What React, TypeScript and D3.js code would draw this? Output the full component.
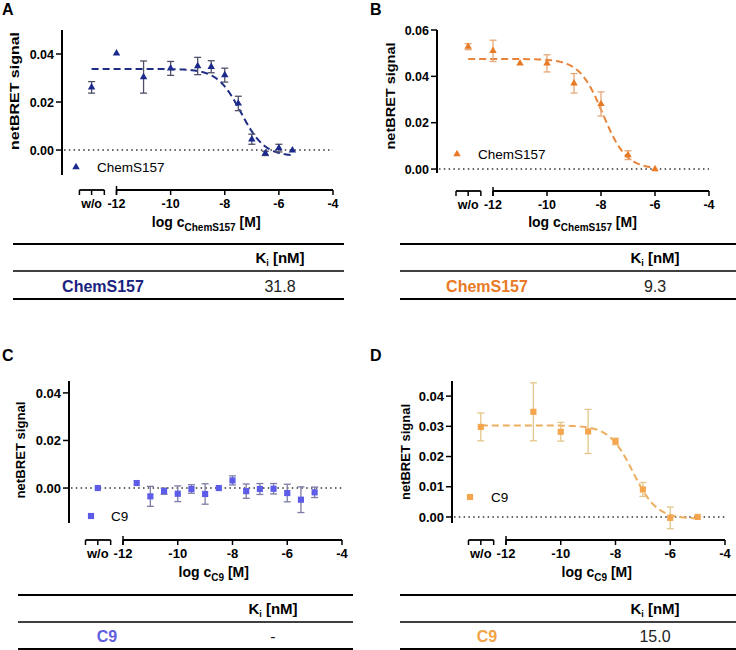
import React from "react";
import * as d3 from "d3";

const FONT = "'Liberation Sans', Arial, Helvetica, sans-serif";

// ---------- DATA ----------
// Panel A – ChemS157 (blue)
const aConc: (string | number)[] = ["w/o", -12, -11, -10, -9, -8.5, -8, -7.5, -7, -6.5, -6, -5.5];
const aSignal = [0.0261, 0.0403, 0.0304, 0.034, 0.035, 0.0347, 0.0312, 0.0194, 0.0045, -0.0014, 0.0008, -0.0001];
const aError = [0.0024, 0, 0.0067, 0.0029, 0.0036, 0.0025, 0.0029, 0.003, 0.0021, 0.0009, 0.0016, 0];
const aFit = { top: 0.0338, bottom: -0.0026, logIC50: -7.4, end: -5.5 };
const aYTicks = [0, 0.02, 0.04];

// Panel B – ChemS157 (orange)
const bConc: (string | number)[] = ["w/o", -12, -11, -10, -9, -8, -7, -6];
const bSignal = [0.0528, 0.051, 0.0456, 0.0456, 0.037, 0.0281, 0.006, 0.0];
const bError = [0.0013, 0.0046, 0, 0.0037, 0.0042, 0.0052, 0.0019, 0];
const bFit = { top: 0.0475, bottom: 0.0, logIC50: -7.93, end: -6 };
const bYTicks = [0, 0.02, 0.04, 0.06];

// Panel C – C9 (blue-violet), no fit
const cConc: (string | number)[] = ["w/o", -11.5, -11, -10.5, -10, -9.5, -9, -8.5, -8, -7.5, -7, -6.5, -6, -5.5, -5];
const cSignal = [0.0, 0.0021, -0.0035, -0.0013, -0.0024, -0.0004, -0.0025, 0.0, 0.0032, -0.0013, -0.0004, -0.0003, -0.0021, -0.0049, -0.0018];
const cError = [0, 0, 0.0042, 0.0013, 0.0033, 0.0018, 0.0043, 0, 0.0019, 0.003, 0.0023, 0.0022, 0.0037, 0.0054, 0.0022];
const cYTicks = [0, 0.02, 0.04];

// Panel D – C9 (light orange)
const dConc: (string | number)[] = ["w/o", -11, -10, -9, -8, -7, -6, -5];
const dSignal = [0.0298, 0.0348, 0.0282, 0.0283, 0.025, 0.0091, -0.0003, 0.0];
const dError = [0.0046, 0.0096, 0.0031, 0.0073, 0.0011, 0.0023, 0.0036, 0];
const dFit = { top: 0.0303, bottom: -0.0006, logIC50: -7.36, end: -5 };
const dYTicks = [0, 0.01, 0.02, 0.03, 0.04];

const xTicks = [-12, -10, -8, -6, -4];
const WO_LOG = -12.92;
const WO_SEG = [-13.37, -12.45];

// Tables
const kiHeader = "K";
const kiSub = "i";
const kiUnit = " [nM]";
const tableNames = ["ChemS157", "ChemS157", "C9", "C9"];
const tableKi = ["31.8", "9.3", "-", "15.0"];

// ---------- HELPERS ----------
type Fit = { top: number; bottom: number; logIC50: number; end: number };

function fitValue(f: Fit, x: number) {
  return f.bottom + (f.top - f.bottom) / (1 + Math.pow(10, x - f.logIC50));
}

type PanelCfg = {
  letter: string;
  letterX: number;
  letterY: number;
  conc: (string | number)[];
  signal: number[];
  error: number[];
  fit: Fit | null;
  yTicks: number[];
  yDomain: [number, number];
  yRange: [number, number];
  yAxisX: number;
  xRange: [number, number];
  xAxisY: number;
  tickFont: number;
  yTitle: { x: number; y: number; len: number };
  sub: string;
  titleY: number;
  legend: { x: number; y: number; tx: number };
  symbol: any;
  symSize: number;
  color: string;
  lineColor: string;
  errColor: string;
  tableColor: string;
  table: { x1: number; x2: number; top: number; mid: number; bottom: number; nameX: number; valX: number; headY: number; rowY: number };
  name: string;
  ki: string;
};

function Panel({ c }: { c: PanelCfg }) {
  const x = d3.scaleLinear().domain([-12, -4]).range(c.xRange);
  const y = d3.scaleLinear().domain(c.yDomain).range(c.yRange);
  const xPos = (v: string | number) => (v === "w/o" ? x(WO_LOG) : x(v as number));
  const sym = d3.symbol().type(c.symbol).size(c.symSize);
  const axisColor = "#000";

  let curvePath: string | null = null;
  if (c.fit) {
    const f = c.fit;
    const xs = d3.range(WO_LOG, f.end + 0.0001, 0.02);
    const line = d3
      .line<number>()
      .x((v) => x(v))
      .y((v) => y(fitValue(f, v)));
    curvePath = line(xs);
  }

  const segL = x(WO_SEG[0]);
  const segR = x(WO_SEG[1]);
  const x12 = x(-12);
  const x4 = x(-4);
  const ay = c.xAxisY;
  const t = c.table;

  return (
    <g fontFamily={FONT}>
      <text x={c.letterX} y={c.letterY} fontSize={16} fontWeight="bold">
        {c.letter}
      </text>

      {/* y axis */}
      <line x1={c.yAxisX} x2={c.yAxisX} y1={y(c.yDomain[1])} y2={y(c.yDomain[0])} stroke={axisColor} strokeWidth={2} />
      {c.yTicks.map((v) => (
        <g key={v}>
          <line x1={c.yAxisX - 6} x2={c.yAxisX} y1={y(v)} y2={y(v)} stroke={axisColor} strokeWidth={1.5} />
          <text x={c.yAxisX - 8} y={y(v)} dy="0.36em" textAnchor="end" fontSize={c.tickFont} fontWeight="bold">
            {d3.format(".2f")(v)}
          </text>
        </g>
      ))}
      <text
        transform={`translate(${c.yTitle.x},${c.yTitle.y}) rotate(-90)`}
        textAnchor="middle"
        dy="0.35em"
        fontSize={13.5}
        fontWeight="bold"
        textLength={c.yTitle.len}
        lengthAdjust="spacingAndGlyphs"
      >
        netBRET signal
      </text>

      {/* zero dotted line */}
      <line x1={c.yAxisX + 2} x2={x4} y1={y(0)} y2={y(0)} stroke="#333" strokeWidth={1.5} strokeDasharray="1.5 3.3" />

      {/* x axis: w/o segment */}
      <line x1={segL} x2={segR} y1={ay} y2={ay} stroke={axisColor} strokeWidth={1.8} />
      {[segL, x(WO_LOG), segR].map((px, i) => (
        <line key={i} x1={px} x2={px} y1={ay} y2={ay + 5} stroke={axisColor} strokeWidth={1.5} />
      ))}
      <text x={x(WO_LOG)} y={ay + 18} textAnchor="middle" fontSize={c.tickFont} fontWeight="bold">
        w/o
      </text>
      {/* main axis */}
      <line x1={x12} x2={x4} y1={ay} y2={ay} stroke={axisColor} strokeWidth={1.8} />
      <line x1={x12} x2={x12} y1={ay - 4} y2={ay + 5} stroke={axisColor} strokeWidth={1.5} />
      {xTicks.map((v) => (
        <g key={v}>
          <line x1={x(v)} x2={x(v)} y1={ay} y2={ay + 5} stroke={axisColor} strokeWidth={1.5} />
          <text x={x(v)} y={ay + 18} textAnchor="middle" fontSize={c.tickFont} fontWeight="bold">
            {v}
          </text>
        </g>
      ))}
      <text x={(segL + x4) / 2} y={c.titleY} textAnchor="middle" fontSize={14} fontWeight="bold">
        <tspan>log c</tspan>
        <tspan dy={4} fontSize={10}>
          {c.sub}
        </tspan>
        <tspan dy={-4}> [M]</tspan>
      </text>

      {/* fit curve */}
      {curvePath && <path d={curvePath} fill="none" stroke={c.lineColor} strokeWidth={2} strokeDasharray="7 4" />}

      {/* error bars */}
      {c.conc.map((cv, i) =>
        c.error[i] > 0 ? (
          <g key={"e" + i} stroke={c.errColor} strokeWidth={1.3}>
            <line x1={xPos(cv)} x2={xPos(cv)} y1={y(c.signal[i] - c.error[i])} y2={y(c.signal[i] + c.error[i])} />
            <line x1={xPos(cv) - 3.5} x2={xPos(cv) + 3.5} y1={y(c.signal[i] + c.error[i])} y2={y(c.signal[i] + c.error[i])} />
            <line x1={xPos(cv) - 3.5} x2={xPos(cv) + 3.5} y1={y(c.signal[i] - c.error[i])} y2={y(c.signal[i] - c.error[i])} />
          </g>
        ) : null
      )}
      {/* points */}
      {c.conc.map((cv, i) => (
        <path key={"p" + i} d={sym() as string} transform={`translate(${xPos(cv)},${y(c.signal[i])})`} fill={c.color} />
      ))}

      {/* legend */}
      <path d={sym() as string} transform={`translate(${c.legend.x},${c.legend.y})`} fill={c.color} />
      <text x={c.legend.tx} y={c.legend.y} dy="0.36em" fontSize={13.5}>
        {c.name}
      </text>

      {/* table */}
      <line x1={t.x1} x2={t.x2} y1={t.top} y2={t.top} stroke="#000" strokeWidth={2} />
      <line x1={t.x1} x2={t.x2} y1={t.mid} y2={t.mid} stroke="#000" strokeWidth={1.6} />
      <line x1={t.x1} x2={t.x2} y1={t.bottom} y2={t.bottom} stroke="#000" strokeWidth={2} />
      <text x={t.valX} y={t.headY} dy="0.36em" textAnchor="middle" fontSize={15} fontWeight="bold">
        <tspan>{kiHeader}</tspan>
        <tspan dy={3} fontSize={9}>
          {kiSub}
        </tspan>
        <tspan dy={-3}>{kiUnit}</tspan>
      </text>
      <text x={t.nameX} y={t.rowY} dy="0.36em" textAnchor="middle" fontSize={16} fontWeight="bold" fill={c.tableColor}>
        {c.name}
      </text>
      <text x={t.valX} y={t.rowY} dy="0.36em" textAnchor="middle" fontSize={16} fill="#222">
        {c.ki}
      </text>
    </g>
  );
}

const panels: PanelCfg[] = [
  {
    letter: "A",
    letterX: 2,
    letterY: 15,
    conc: aConc,
    signal: aSignal,
    error: aError,
    fit: aFit,
    yTicks: aYTicks,
    yDomain: [-0.0104, 0.05],
    yRange: [175, 30],
    yAxisX: 62,
    xRange: [116.5, 333],
    xAxisY: 190,
    tickFont: 12.5,
    yTitle: { x: 14, y: 91, len: 118 },
    sub: "ChemS157",
    titleY: 227,
    legend: { x: 76, y: 167, tx: 97 },
    symbol: d3.symbolTriangle,
    symSize: 24,
    color: "#1b2a8c",
    lineColor: "#1f2d85",
    errColor: "#50506a",
    tableColor: "#1a237e",
    table: { x1: 13, x2: 344, top: 244, mid: 271, bottom: 299, nameX: 103, valX: 280, headY: 258, rowY: 286 },
    name: tableNames[0],
    ki: tableKi[0],
  },
  {
    letter: "B",
    letterX: 370,
    letterY: 15,
    conc: bConc,
    signal: bSignal,
    error: bError,
    fit: bFit,
    yTicks: bYTicks,
    yDomain: [-0.0017, 0.06],
    yRange: [173, 30],
    yAxisX: 437,
    xRange: [493, 709],
    xAxisY: 191,
    tickFont: 12.5,
    yTitle: { x: 390, y: 96, len: 107 },
    sub: "ChemS157",
    titleY: 227,
    legend: { x: 457, y: 154, tx: 478 },
    symbol: d3.symbolTriangle,
    symSize: 24,
    color: "#e87a25",
    lineColor: "#e8843a",
    errColor: "#e6a878",
    tableColor: "#e87a25",
    table: { x1: 400, x2: 736, top: 244, mid: 271, bottom: 299, nameX: 487, valX: 655, headY: 258, rowY: 286 },
    name: tableNames[1],
    ki: tableKi[1],
  },
  {
    letter: "C",
    letterX: 2,
    letterY: 361,
    conc: cConc,
    signal: cSignal,
    error: cError,
    fit: null,
    yTicks: cYTicks,
    yDomain: [-0.0147, 0.045],
    yRange: [523, 381],
    yAxisX: 69,
    xRange: [123, 342],
    xAxisY: 540,
    tickFont: 13,
    yTitle: { x: 20, y: 450, len: 97 },
    sub: "C9",
    titleY: 577,
    legend: { x: 91, y: 516, tx: 111 },
    symbol: d3.symbolSquare,
    symSize: 38,
    color: "#5c5ce8",
    lineColor: "#5c5ce8",
    errColor: "#7c7ca6",
    tableColor: "#5f5fe0",
    table: { x1: 18, x2: 353, top: 595, mid: 622, bottom: 649, nameX: 107, valX: 273, headY: 609, rowY: 636 },
    name: tableNames[2],
    ki: tableKi[2],
  },
  {
    letter: "D",
    letterX: 370,
    letterY: 361,
    conc: dConc,
    signal: dSignal,
    error: dError,
    fit: dFit,
    yTicks: dYTicks,
    yDomain: [-0.002, 0.045],
    yRange: [523, 381],
    yAxisX: 452,
    xRange: [506, 725],
    xAxisY: 540,
    tickFont: 13,
    yTitle: { x: 405, y: 452, len: 96 },
    sub: "C9",
    titleY: 577,
    legend: { x: 470, y: 497, tx: 491 },
    symbol: d3.symbolSquare,
    symSize: 38,
    color: "#f5a54e",
    lineColor: "#eeae60",
    errColor: "#e2c68a",
    tableColor: "#f0a348",
    table: { x1: 400, x2: 736, top: 595, mid: 622, bottom: 649, nameX: 487, valX: 655, headY: 609, rowY: 636 },
    name: tableNames[3],
    ki: tableKi[3],
  },
];

export default function App() {
  return (
    <svg
      width={736}
      height={650}
      viewBox="0 0 736 650"
      style={{ position: "absolute", left: 0, top: 0, background: "#fff" }}
    >
      <rect x={0} y={0} width={736} height={650} fill="#fff" />
      {panels.map((p) => (
        <Panel key={p.letter} c={p} />
      ))}
    </svg>
  );
}
